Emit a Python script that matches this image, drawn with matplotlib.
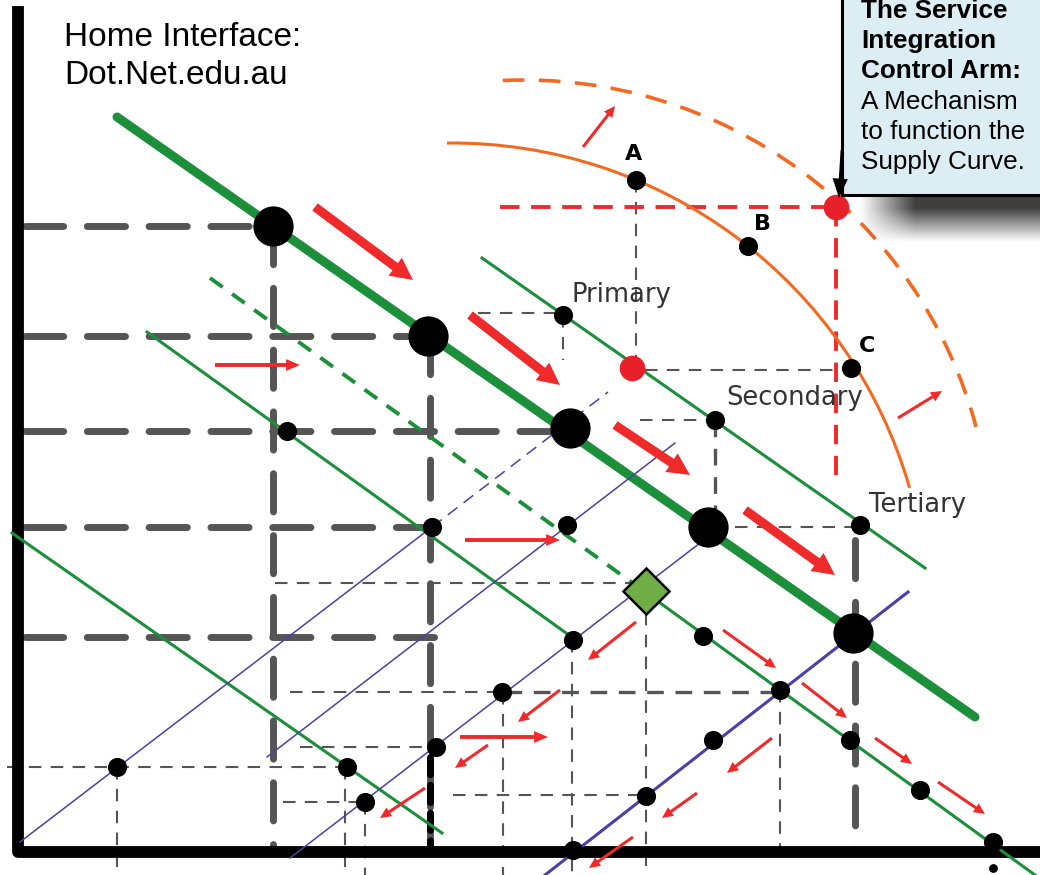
import numpy as np
import matplotlib.pyplot as plt
from matplotlib.patches import Arc, Rectangle, FancyArrowPatch

# everything is laid out in the pixel frame of the original sketch (y grows downward)
W, H = 1040, 875

# curves
main_demand = [(117, 117), (975, 717)]
green_thin = [((482, 258), (925, 568)), ((147, 332), (573, 638)),
              ((645, 592), (1035, 875)), ((12, 533), (442, 833))]
green_dashed = [((210, 278), (645, 592))]
blue_thin = [((20, 842), (432, 527)), ((267, 757), (675, 443)), ((290, 858), (700, 543))]
blue_dashed = [((432, 527), (608, 392))]
blue_thick = [((545, 875), (908, 592))]

# supply frontiers as (centre x, centre y, radius, theta1, theta2)
frontier = (452, 619, 476, 269.4, 344)
frontier_shift = (524, 548, 468, 267.4, 345)

# points
big_dots = [(273, 226), (428, 336), (570, 428), (708, 527), (853, 633)]
small_dots = [(287, 431), (432, 527), (563, 315), (715, 420), (860, 525), (567, 525),
              (573, 640), (502, 692), (436, 747), (365, 802), (117, 767), (347, 767),
              (703, 636), (780, 690), (713, 740), (850, 740), (920, 790), (993, 842),
              (646, 796), (573, 850), (636, 180), (748, 246), (851, 368)]
tiny_dots = [(993, 868)]
red_dots = [(632, 368), (836, 207)]
equilibrium = [(646, 591)]
abc_labels = ["A", "B", "C"]
abc_pos = [(634, 154), (762, 224), (867, 346)]
sector_labels = ["Primary", "Secondary", "Tertiary"]
sector_pos = [(571, 295), (726, 398), (869, 505)]

# guide lines: horizontal (y, x0, x1) and vertical (x, y0, y1)
heavy_h = [(226, 25, 273), (336, 25, 428), (431, 25, 570), (527, 25, 432), (637, 25, 435)]
heavy_v = [(273, 226, 852), (430, 336, 852), (855, 540, 852)]
medium_h = [(692, 505, 780)]
medium_v = [(715, 420, 520)]
thin_h = [(313, 478, 563), (370, 645, 851), (420, 640, 715), (527, 735, 860),
          (583, 275, 645), (692, 290, 502), (747, 300, 436), (767, 7, 347),
          (802, 283, 365), (795, 453, 646)]
thin_v = [(117, 767, 872), (345, 767, 875), (365, 802, 875), (503, 692, 875),
          (563, 315, 360), (572, 640, 875), (636, 180, 368), (646, 591, 875),
          (780, 690, 852)]
red_h = [(207, 500, 836)]
red_v = [(836, 207, 475)]

# arrows (start, end)
thick_arrows = [((315, 207), (413, 280)), ((470, 315), (560, 385)),
                ((615, 425), (690, 475)), ((745, 510), (835, 575))]
flat_arrows = [((215, 365), (300, 365)), ((465, 540), (560, 540)), ((460, 737), (548, 737))]
small_arrows = [((636, 622), (588, 660)), ((560, 690), (518, 722)), ((488, 745), (455, 768)),
                ((425, 788), (380, 818)), ((697, 793), (662, 818)), ((633, 837), (589, 868)),
                ((772, 738), (727, 773)), ((723, 630), (776, 668)), ((802, 683), (847, 718)),
                ((875, 738), (912, 764)), ((938, 782), (985, 814)), ((583, 147), (615, 106)),
                ((898, 418), (942, 391))]

title_lines = ["Home Interface:", "Dot.Net.edu.au"]
callout_lines = ["The Service", "Integration", "Control Arm:",
                 "A Mechanism", "to function the", "Supply Curve."]
callout_bold = [True, True, True, False, False, False]

GREEN = "#1b8f3a"
BLUE = "#4b40a8"
RED = "#ee2a2a"
ORANGE = "#f26a22"
GREY = "#555555"

fig = plt.figure(figsize=(10.4, 8.75), dpi=100)
ax = fig.add_axes([0, 0, 1, 1])


def guides(hs, vs, lw, dashes, color=GREY, cap="butt"):
    for y, x0, x1 in hs:
        ax.plot([x0, x1], [y, y], color=color, lw=lw, dashes=dashes,
                dash_capstyle=cap, zorder=1)
    for x, y0, y1 in vs:
        ax.plot([x, x], [y0, y1], color=color, lw=lw, dashes=dashes,
                dash_capstyle=cap, zorder=1)


guides(heavy_h, heavy_v, 5, (5.5, 3.4), cap="round")
guides(medium_h, medium_v, 2.4, (5, 3.5))
guides(thin_h, thin_v, 1.5, (6, 4.5))
ax.plot([430, 430], [757, 852], color="black", lw=5, dashes=(2.5, 1.5),
        dash_capstyle="round", zorder=1)
guides(red_h, red_v, 2.8, (5, 3), color=RED)

# axes
ax.plot([18, 18, W], [12, 852, 852], color="black", lw=8.5,
        solid_joinstyle="round", zorder=2)

# demand / supply lines
ax.plot(*zip(*main_demand), color=GREEN, lw=6.5, solid_capstyle="round", zorder=2)
for seg in green_thin:
    ax.plot(*zip(*seg), color=GREEN, lw=2.2, zorder=2)
for seg in green_dashed:
    ax.plot(*zip(*seg), color=GREEN, lw=2.8, dashes=(4, 3), zorder=2)
for seg in blue_thin:
    ax.plot(*zip(*seg), color=BLUE, lw=1.1, zorder=2)
for seg in blue_dashed:
    ax.plot(*zip(*seg), color=BLUE, lw=1.1, dashes=(8, 5), zorder=2)
for seg in blue_thick:
    ax.plot(*zip(*seg), color=BLUE, lw=2.2, zorder=2)

cx, cy, r, t1, t2 = frontier
ax.add_patch(Arc((cx, cy), 2 * r, 2 * r, theta1=t1, theta2=t2,
                 color=ORANGE, lw=2.2, zorder=2))
cx, cy, r, t1, t2 = frontier_shift
ax.add_patch(Arc((cx, cy), 2 * r, 2 * r, theta1=t1, theta2=t2,
                 color=ORANGE, lw=2.6, linestyle=(0, (6, 4)), zorder=2))


def arrow(p0, p1, tail, hw, hl, color=RED):
    ax.add_patch(FancyArrowPatch(
        p0, p1, arrowstyle=f"simple,head_length={hl},head_width={hw},tail_width={tail}",
        mutation_scale=1, color=color, lw=0, shrinkA=0, shrinkB=0, zorder=3))


for p0, p1 in thick_arrows:
    arrow(p0, p1, 6.5, 16, 16)
for p0, p1 in flat_arrows:
    arrow(p0, p1, 2.8, 8.5, 10)
for p0, p1 in small_arrows:
    arrow(p0, p1, 2.2, 7.5, 8)

# points
ax.scatter(*zip(*big_dots), s=840, color="black", lw=0, zorder=4)
ax.scatter(*zip(*small_dots), s=190, color="black", lw=0, zorder=4)
ax.scatter(*zip(*tiny_dots), s=40, color="black", lw=0, zorder=4)
ax.scatter(*zip(*red_dots), s=340, color="#e8202a", lw=0, zorder=4)
ax.plot(*zip(*equilibrium), marker="D", ms=23, color="#70ad47",
        mec="black", mew=1.8, ls="none", zorder=5)

for lab, (x, y) in zip(abc_labels, abc_pos):
    ax.text(x, y, lab, fontsize=16, fontweight="bold", ha="center", va="center",
            family="DejaVu Sans", zorder=6)
for lab, (x, y) in zip(sector_labels, sector_pos):
    ax.text(x, y, lab, fontsize=18.5, color="#333333", ha="left", va="center",
            family="DejaVu Sans", zorder=6)

for i, line in enumerate(title_lines):
    ax.text(64, 38 + 37 * i, line, fontsize=24, ha="left", va="center",
            family="Liberation Sans", zorder=6)

# callout box with soft shadow
sx = np.linspace(850, W, 190)
sy = np.linspace(195, 245, 50)
alpha = np.outer(np.clip((242 - sy) / 34, 0, 1), np.clip((sx - 860) / 55, 0, 1))
shadow = np.zeros((len(sy), len(sx), 4))
shadow[..., :3] = 0.25
shadow[..., 3] = alpha
ax.imshow(shadow, extent=(850, W, 245, 195), interpolation="bilinear",
          aspect="auto", zorder=6)

ax.add_patch(Rectangle((842, -10), 210, 205, facecolor="#dcedf3",
                       edgecolor="black", lw=2.2, zorder=7))
for i, (line, bold) in enumerate(zip(callout_lines, callout_bold)):
    ax.text(861, 11 + 30.2 * i, line, fontsize=18.8, ha="left", va="center",
            fontweight="bold" if bold else "normal", family="Liberation Sans", zorder=8)
ax.add_patch(FancyArrowPatch((842, 150), (839, 198),
                             arrowstyle="simple,head_length=14,head_width=11,tail_width=2",
                             mutation_scale=1, color="black", lw=0,
                             shrinkA=0, shrinkB=0, zorder=8))

ax.set_xlim(0, W)
ax.set_ylim(H, 0)
ax.axis("off")
fig.savefig("out.png", dpi=100)
